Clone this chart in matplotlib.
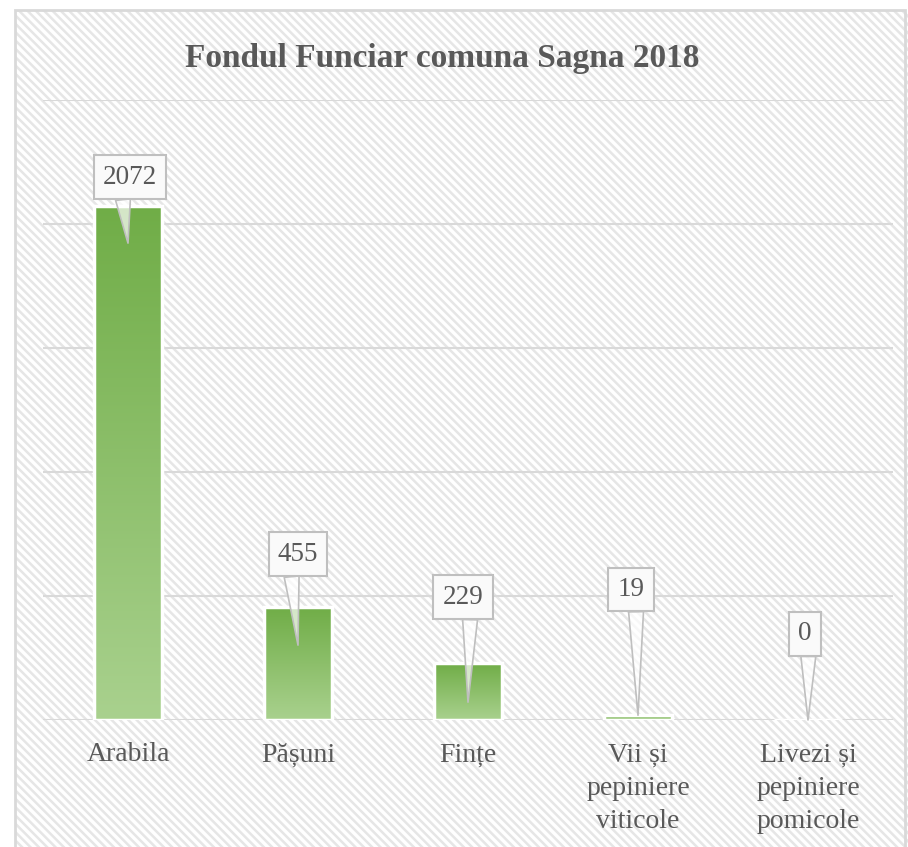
import numpy as np
import matplotlib
matplotlib.use('Agg')
import matplotlib.pyplot as plt
from matplotlib.patches import Rectangle
from matplotlib.colors import LinearSegmentedColormap
import matplotlib.transforms as mtransforms

categories = ['Arabila', 'Pășuni', 'Fințe', 'Vii și\npepiniere\nviticole', 'Livezi și\npepiniere\npomicole']
values = [2072, 455, 229, 19, 0]
title = 'Fondul Funciar comuna Sagna 2018'

# callout layout (pixels): how far the tip sits inside the bar, box offset from the tip,
# and where along the box bottom the pointer starts
tip_depth = [37, 38, 39, 0, 0]
box_offset = [(2, 66), (0, 91), (-5, 105), (-7, 126), (-3, 86)]
pointer_rel = [0.35, 0.32, 0.68, 0.68, 0.75]

plt.rcParams['font.family'] = ['Liberation Serif', 'DejaVu Serif']
plt.rcParams['hatch.linewidth'] = 1.8

fig = plt.figure(figsize=(9.08, 8.47), dpi=100)
W, H = 908, 847

# hatched background inside the outer frame
bg = Rectangle((15 / W, 0), 1, 1 - 10 / H, transform=fig.transFigure, facecolor='white',
               edgecolor='#e6e6e6', hatch='\\\\\\\\', linewidth=0, zorder=-5)
fig.patches.append(bg)
frame = Rectangle((15 / W, -0.01), (905 - 15) / W, 1 - 10 / H + 0.01, transform=fig.transFigure,
                  facecolor='none', edgecolor='#d9d9d9', linewidth=2, zorder=-4)
fig.patches.append(frame)

ax = fig.add_axes([43 / W, 1 - 720 / H, 850 / W, 620 / H])
ax.set_facecolor('none')

x = np.arange(len(values))
bars = ax.bar(x, values, width=0.4, color='none', edgecolor='white', linewidth=2.5, zorder=3)

cmap = LinearSegmentedColormap.from_list('grn', ['#A9D18E', '#70AD47'])
grad = np.linspace(0, 1, 256).reshape(-1, 1)
for b in bars:
    if b.get_height() <= 0:
        continue
    x0 = b.get_x()
    im = ax.imshow(grad, cmap=cmap, origin='lower', aspect='auto', zorder=2,
                   extent=[x0, x0 + b.get_width(), 0, b.get_height()])
    im.set_clip_path(b)

ax.set_xlim(-0.5, len(values) - 0.5)
ax.set_ylim(0, 2500)
ax.set_yticks(np.arange(0, 2501, 500))
ax.set_yticklabels([])
ax.grid(axis='y', color='#d9d9d9', linewidth=1.5, zorder=1)
ax.set_axisbelow(True)
ax.tick_params(axis='both', length=0)
ax.tick_params(axis='x', pad=16)
ax.set_xticks(x)
ax.set_xticklabels(categories, fontsize=20, color='#595959', linespacing=1.45, va='top')
for s in ax.spines.values():
    s.set_visible(False)

for i, v in enumerate(values):
    tr = mtransforms.offset_copy(ax.transData, fig=fig, x=0, y=-tip_depth[i], units='dots')
    ax.annotate(str(v), xy=(i, v), xycoords=tr,
                xytext=box_offset[i], textcoords='offset pixels',
                ha='center', va='center', fontsize=19.5, color='#595959', zorder=5,
                bbox=dict(boxstyle='square,pad=0.34', facecolor='#fafafa', edgecolor='#bfbfbf', linewidth=1.5),
                arrowprops=dict(arrowstyle='wedge,tail_width=0.55', facecolor=(1, 1, 1, 0.7),
                                edgecolor='#bfbfbf', linewidth=1.2, shrinkA=0, shrinkB=0,
                                relpos=(pointer_rel[i], 0)))

fig.text(442 / W, 1 - 58 / H, title, ha='center', va='center', fontsize=24,
         fontweight='bold', color='#595959')

fig.savefig('out.png', dpi=100)
